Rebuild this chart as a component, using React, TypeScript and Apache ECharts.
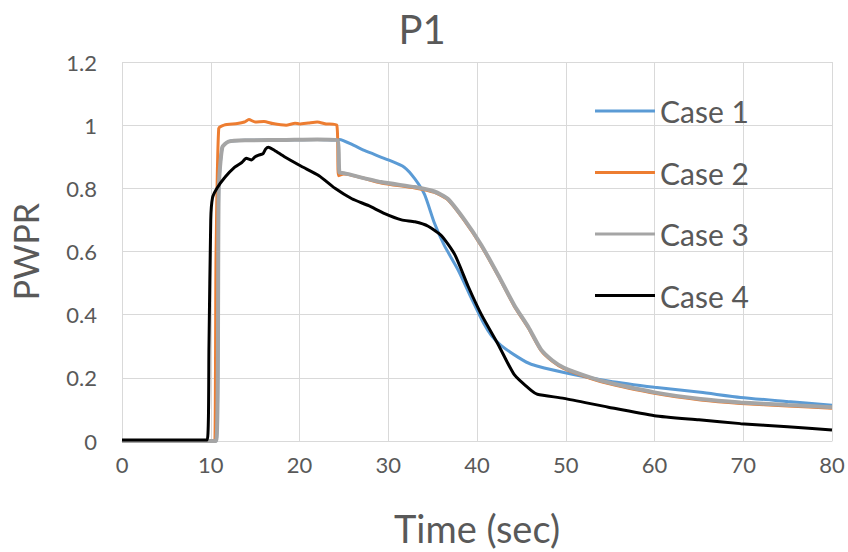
import React, { useEffect, useRef } from "react";
import * as echarts from "echarts";

// Time (sec) / PWPR pairs for each case
const case1: [number, number][] = [
  [0, 0], [10.6, 0], [10.9, 0.8], [11.3, 0.93], [12.0, 0.948], [14, 0.952], [18, 0.953],
  [22, 0.955], [24.3, 0.953], [24.5, 0.955], [26.2, 0.935], [27.3, 0.92], [30, 0.89],
  [31.8, 0.867], [33, 0.83], [34.1, 0.78], [35.2, 0.69], [36.3, 0.62], [37.9, 0.54],
  [39.4, 0.45], [40.8, 0.37], [41.6, 0.335], [42.7, 0.303], [44.7, 0.264], [46.1, 0.243],
  [49.8, 0.217], [54.8, 0.19], [60, 0.17], [65.2, 0.154], [69.7, 0.138], [75, 0.125], [80, 0.113],
];

const case2: [number, number][] = [
  [0, 0], [10.3, 0], [10.6, 0.6], [10.9, 0.99], [11.5, 1.0], [13, 1.005], [13.8, 1.01],
  [14.3, 1.018], [15, 1.01], [16, 1.012], [17, 1.005], [18.5, 1.0], [19.5, 1.006], [20, 1.004],
  [21, 1.007], [22, 1.01], [23, 1.004], [24.2, 1.0], [24.4, 0.84], [25, 0.845], [29.2, 0.817],
  [33, 0.801], [35.2, 0.787], [36.7, 0.764], [38.6, 0.697], [40.5, 0.617], [42.4, 0.522],
  [44.2, 0.427], [45.8, 0.357], [47.2, 0.287], [48.5, 0.252], [49.8, 0.229], [52.9, 0.197],
  [54.8, 0.182], [60, 0.151], [65.2, 0.13], [69.7, 0.119], [75, 0.111], [80, 0.104],
];

const case3: [number, number][] = [
  [0, 0], [10.6, 0], [10.9, 0.8], [11.3, 0.93], [12.0, 0.948], [14, 0.952], [18, 0.953],
  [22, 0.955], [24.3, 0.952], [24.5, 0.85], [25, 0.848], [29.2, 0.82], [33, 0.804],
  [35.2, 0.79], [36.7, 0.767], [38.6, 0.7], [40.5, 0.62], [42.4, 0.525], [44.2, 0.43],
  [45.8, 0.36], [47.2, 0.29], [48.5, 0.255], [49.8, 0.232], [52.9, 0.2], [54.8, 0.185],
  [60, 0.154], [65.2, 0.133], [69.7, 0.122], [75, 0.114], [80, 0.107],
];

const case4: [number, number][] = [
  [0, 0.003], [9.6, 0.003], [9.8, 0.3], [10.0, 0.7], [10.2, 0.77], [10.7, 0.8], [11.6, 0.835],
  [12.7, 0.867], [13.5, 0.882], [14.0, 0.895], [14.6, 0.89], [15.0, 0.9], [15.4, 0.905],
  [15.9, 0.91], [16.2, 0.925], [16.5, 0.93], [17.2, 0.92], [18.3, 0.9], [20.2, 0.87],
  [22.2, 0.84], [24.0, 0.8], [25.9, 0.767], [27.8, 0.745], [29.6, 0.72], [31.5, 0.7],
  [33.0, 0.694], [34.5, 0.68], [36, 0.65], [37.5, 0.59], [39, 0.49], [40.5, 0.4],
  [42.4, 0.305], [44.2, 0.21], [46.1, 0.16], [46.8, 0.148], [49.8, 0.135], [54.8, 0.107],
  [60, 0.08], [65, 0.067], [69.7, 0.055], [75, 0.045], [80, 0.035],
];

const seriesNames = ["Case 1", "Case 2", "Case 3", "Case 4"];
const seriesData = [case1, case2, case3, case4];
const seriesColors = ["#5B9BD5", "#ED7D31", "#A5A5A5", "#000000"];
const seriesWidths = [3, 3, 4, 3];

const FONT = "Lato, 'Open Sans', sans-serif";
const TEXT = "#595959";

export default function App() {
  const ref = useRef<HTMLDivElement>(null);

  useEffect(() => {
    if (!ref.current) return;
    const chart = echarts.init(ref.current, undefined, { renderer: "svg" });
    chart.setOption({
      animation: false,
      backgroundColor: "#ffffff",
      textStyle: { fontFamily: FONT },
      title: {
        text: "P1",
        left: 417,
        top: 4,
        textAlign: "center",
        textStyle: { fontFamily: FONT, fontSize: 40, fontWeight: "normal", color: TEXT },
      },
      grid: { left: 120, right: 16, top: 62, bottom: 108 },
      legend: {
        orient: "vertical",
        left: 595,
        top: 96,
        padding: 0,
        itemWidth: 60,
        itemHeight: 3,
        itemGap: 31.5,
        icon: "rect",
        data: seriesNames,
        textStyle: { fontFamily: FONT, fontSize: 30, lineHeight: 30, color: TEXT },
      },
      xAxis: {
        type: "value",
        min: 0,
        max: 80,
        interval: 10,
        name: "Time (sec)",
        nameLocation: "middle",
        nameGap: 68,
        nameTextStyle: { fontFamily: FONT, fontSize: 38, color: TEXT },
        axisLine: { show: true, lineStyle: { color: "#d9d9d9", width: 1 } },
        axisTick: { show: false },
        axisLabel: { fontFamily: FONT, fontSize: 22, color: TEXT, margin: 12 },
        splitLine: { show: true, lineStyle: { color: "#d9d9d9", width: 1 } },
      },
      yAxis: {
        type: "value",
        min: 0,
        max: 1.2,
        interval: 0.2,
        name: "PWPR",
        nameLocation: "middle",
        nameGap: 80,
        nameTextStyle: { fontFamily: FONT, fontSize: 34, color: TEXT },
        axisLine: { show: false },
        axisTick: { show: false },
        axisLabel: { fontFamily: FONT, fontSize: 22, color: TEXT, margin: 25 },
        splitLine: { show: true, lineStyle: { color: "#d9d9d9", width: 1 } },
      },
      series: seriesNames.map((name, i) => ({
        name,
        type: "line",
        data: seriesData[i],
        showSymbol: false,
        symbol: "none",
        smooth: 0.2,
        color: seriesColors[i],
        lineStyle: { color: seriesColors[i], width: seriesWidths[i] },
        z: 2 + i,
      })),
    });
    return () => chart.dispose();
  }, []);

  return (
    <div
      ref={ref}
      style={{ position: "fixed", left: 0, top: 0, width: 848, height: 552 }}
    />
  );
}
